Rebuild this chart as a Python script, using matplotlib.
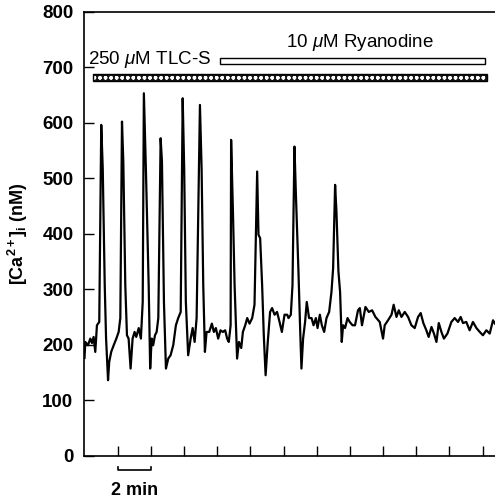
import matplotlib
matplotlib.use("Agg")
import matplotlib.pyplot as plt

plt.rcParams['font.family'] = ['Liberation Sans', 'DejaVu Sans']
plt.rcParams['mathtext.fontset'] = 'custom'
plt.rcParams['mathtext.rm'] = 'Liberation Sans'
plt.rcParams['mathtext.it'] = 'Liberation Sans:italic'
plt.rcParams['mathtext.bf'] = 'Liberation Sans:bold'
plt.rcParams['hatch.linewidth'] = 1.0

# === Trace: time (min) and [Ca2+]i (nM) ===
time_min = [0.00, 0.05, 0.21, 0.35, 0.45, 0.55, 0.65, 0.75, 0.89, 1.01,
            1.10, 1.22, 1.30, 1.42, 1.49, 1.61, 1.76, 1.92, 2.06, 2.16,
            2.26, 2.34, 2.46, 2.56, 2.66, 2.78, 2.90, 3.02, 3.12, 3.27,
            3.40, 3.51, 3.58, 3.70, 3.87, 3.96, 4.05, 4.14, 4.25, 4.35,
            4.45, 4.59, 4.67, 4.79, 4.91, 5.05, 5.19, 5.35, 5.51, 5.65,
            5.80, 5.92, 6.01, 6.11, 6.25, 6.40, 6.52, 6.64, 6.76, 6.96,
            7.06, 7.16, 7.26, 7.36, 7.52, 7.68, 7.80, 7.92, 8.06, 8.20,
            8.34, 8.48, 8.60, 8.70, 8.81, 8.84, 8.95, 9.05, 9.20, 9.31,
            9.45, 9.55, 9.69, 9.81, 9.95, 10.11, 10.25, 10.41, 10.49, 10.59,
            10.71, 10.81, 10.92, 11.05, 11.19, 11.31, 11.46, 11.61, 11.76, 11.90,
            12.06, 12.22, 12.30, 12.44, 12.54, 12.66, 12.74, 12.90, 13.00, 13.08,
            13.18, 13.30, 13.40, 13.54, 13.69, 13.81, 13.95, 14.05, 14.19, 14.31,
            14.45, 14.59, 14.75, 14.89, 14.99, 15.11, 15.19, 15.31, 15.41, 15.51,
            15.59, 15.71, 15.86, 15.99, 16.16, 16.31, 16.49, 16.60, 16.73, 16.94,
            17.14, 17.34, 17.54, 17.80, 18.00, 18.10, 18.30, 18.51, 18.64, 18.81,
            18.95, 19.11, 19.31, 19.51, 19.71, 19.91, 20.11, 20.27, 20.43, 20.61,
            20.75, 20.92, 21.07, 21.22, 21.36, 21.52, 21.67, 21.88, 22.12, 22.32,
            22.52, 22.68, 22.82, 23.02, 23.22, 23.42, 23.63, 23.83, 24.02, 24.23,
            24.43, 24.63, 24.75]
ca_nM = [176, 205, 199, 211, 203, 214, 187, 235, 241, 596,
         518, 307, 212, 136, 169, 187, 199, 211, 223, 248,
         602, 530, 307, 217, 211, 157, 211, 223, 214, 230,
         211, 277, 653, 518, 307, 157, 211, 199, 217, 223,
         248, 572, 530, 277, 157, 175, 181, 199, 235, 248,
         259, 644, 518, 277, 181, 211, 230, 205, 248, 632,
         518, 307, 187, 223, 223, 238, 223, 230, 211, 226,
         223, 226, 211, 205, 235, 569, 440, 307, 175, 205,
         194, 223, 235, 248, 238, 248, 272, 512, 398, 392,
         307, 217, 145, 205, 259, 266, 254, 259, 241, 223,
         254, 254, 248, 254, 307, 557, 476, 332, 230, 157,
         211, 241, 277, 248, 248, 235, 248, 230, 254, 235,
         223, 248, 259, 295, 338, 488, 440, 332, 295, 205,
         235, 230, 248, 241, 235, 235, 262, 266, 235, 268,
         259, 262, 250, 241, 211, 235, 244, 254, 272, 250,
         262, 250, 259, 250, 235, 230, 250, 257, 239, 226,
         214, 232, 220, 205, 239, 223, 211, 220, 241, 248,
         241, 250, 239, 241, 226, 241, 230, 223, 217, 226,
         220, 244, 238]

# === Drug application bars ===
drug_labels = [r'250 $\mu$M TLC-S', r'10 $\mu$M Ryanodine']
drug_start = [0.51, 8.16]
drug_end = [24.25, 24.13]
drug_level = [681, 711]

xticks_min = [2, 4, 6, 8, 10, 12, 14, 16, 18, 20, 22, 24]
yticks_nM = [0, 100, 200, 300, 400, 500, 600, 700, 800]

fig = plt.figure(figsize=(4.95, 5.0), dpi=100)
ax = fig.add_axes([0.1707, 0.0886, 0.8293, 0.888])

ax.plot(time_min, ca_nM, color='black', linewidth=1.6)

# TLC-S bar: dark fill with white dots, then outline
ax.barh(drug_level[0], drug_end[0] - drug_start[0], left=drug_start[0], height=13,
        color='#151515', edgecolor='white', hatch='ooo', linewidth=0)
ax.barh(drug_level[0], drug_end[0] - drug_start[0], left=drug_start[0], height=13,
        fill=False, edgecolor='black', linewidth=1.0)
# Ryanodine bar: open
ax.barh(drug_level[1], drug_end[1] - drug_start[1], left=drug_start[1], height=12,
        color='white', edgecolor='black', linewidth=1.0)

ax.text(0.2, 714, drug_labels[0], fontsize=13.5, ha='left', va='center')
ax.text(16.6, 744, drug_labels[1], fontsize=13.5, ha='center', va='center')

# 2 min scale bar below the axis
ax.plot([2, 2, 4, 4], [-21, -26, -26, -21], color='black', linewidth=1.2, clip_on=False)
ax.text(3.0, -62, '2 min', fontsize=13, fontweight='bold', ha='center', va='center')

ax.set_xlim(0, 24.75)
ax.set_ylim(0, 800)
ax.set_xticks(xticks_min)
ax.set_xticklabels([])
ax.set_yticks(yticks_nM)
ax.set_yticklabels([str(v) for v in yticks_nM], fontsize=13.5, fontweight='bold')
ax.tick_params(axis='both', direction='in', length=7, width=1.0)
ax.tick_params(axis='y', pad=8)

ax.spines['right'].set_visible(False)
for s in ['left', 'bottom', 'top']:
    ax.spines[s].set_linewidth(1.2)

ax.set_ylabel(r'[Ca$^{\mathbf{2+}}$]$_{\mathbf{i}}$ (nM)', fontsize=13, fontweight='bold')
ax.yaxis.set_label_coords(-0.133, 0.5)

fig.savefig('out.png', dpi=100)
